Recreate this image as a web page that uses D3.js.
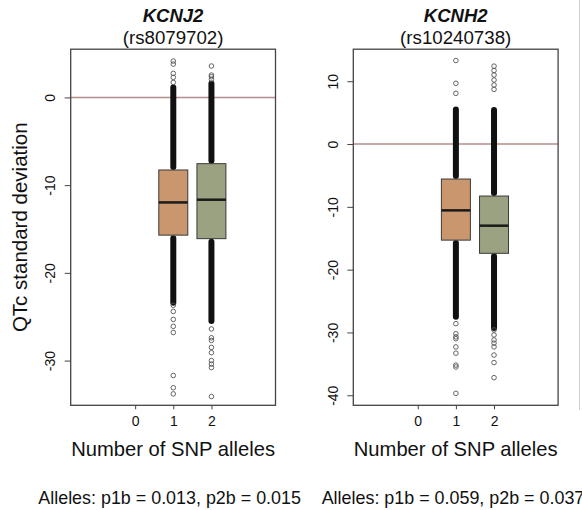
<!DOCTYPE html>
<html lang="en">
<head>
    <meta charset="UTF-8">
    <title>QTc by SNP alleles</title>
    <script src="https://d3js.org/d3.v7.min.js"></script>
    <style>
        body { margin: 0; background: #fff; }
        svg text { font-family: "Liberation Sans", Arial, Helvetica, sans-serif; fill: #111; }
    </style>
</head>
<body>
<div id="chart"></div>
<script>
    // values
    var genes = ["KCNJ2", "KCNH2"];
    var snpIds = ["rs8079702", "rs10240738"];
    var p1b = ["0.013", "0.059"];
    var p2b = ["0.015", "0.037"];
    var alleleTicks = [0, 1, 2];
    var boxGroups = [1, 2];
    var yTicks = [[-30, -20, -10, 0], [-40, -30, -20, -10, 0, 10]];
    var yDomains = [[-35.1, 5.5], [-41.6, 15.1]];
    var xDomain = [-1.69, 3.68];

    // per panel, per group (1, 2)
    var q1 = [[-15.7, -16.1], [-15.3, -17.4]];
    var medians = [[-11.97, -11.66], [-10.56, -13.0]];
    var q3 = [[-8.27, -7.55], [-5.57, -8.28]];
    // limits of the solid run of overlapping outliers
    var denseHigh = [[1.14, 1.6], [5.5, 5.4]];
    var denseLow = [[-23.4, -25.5], [-27.5, -29.3]];
    // separate outliers
    var outliers = [
        [[4.15, 3.8, 2.74, 2.29, 1.71, -23.7, -24.4, -25.3, -26.1, -26.8, -31.7, -33.1, -33.8],
         [3.58, 2.55, 2.36, 2.06, -26.4, -27.4, -27.7, -28.5, -29.1, -30.0, -30.4, -30.8, -34.1]],
        [[13.3, 9.67, 8.07, -28.6, -30.2, -30.7, -31.0, -32.3, -33.3, -35.2, -35.5, -39.7],
         [12.4, 11.7, 11.0, 10.2, 9.4, 8.7, -29.6, -30.4, -31.2, -31.7, -32.3, -33.6, -34.8, -37.2]]
    ];
    var boxColors = ["#c9966e", "#9aa281"];

    var W = 582, H = 510;
    var panelLeft = [70.7, 353.3],
        panelWidth = 204.8,
        plotTop = 49.2,
        plotBottom = 405.3;

    var svg = d3.select("#chart").append("svg")
        .attr("width", W)
        .attr("height", H);

    // edge of the next panel, cut off on the right
    svg.append("line")
        .attr("x1", 579.5).attr("x2", 579.5)
        .attr("y1", 0).attr("y2", 410)
        .attr("stroke", "#d0d0d0").attr("stroke-width", 1);

    genes.forEach(function (gene, p) {
        var x0 = panelLeft[p], x1 = x0 + panelWidth, cx = (x0 + x1) / 2;
        var x = d3.scaleLinear().domain(xDomain).range([x0, x1]);
        var y = d3.scaleLinear().domain(yDomains[p]).range([plotBottom, plotTop]);
        var g = svg.append("g");
        var halfBox = 0.38;

        // titles
        g.append("text")
            .attr("x", cx).attr("y", 22)
            .attr("text-anchor", "middle")
            .style("font-size", "18.5px").style("font-weight", "bold").style("font-style", "italic")
            .text(gene);
        g.append("text")
            .attr("x", cx).attr("y", 44)
            .attr("text-anchor", "middle")
            .style("font-size", "18.7px")
            .text("(" + snpIds[p] + ")");

        // reference line at zero
        g.append("line")
            .attr("x1", x0).attr("x2", x1)
            .attr("y1", y(0)).attr("y2", y(0))
            .attr("stroke", "#b58c8c").attr("stroke-width", 1.5);

        // dense outlier columns
        boxGroups.forEach(function (grp, k) {
            g.append("rect")
                .attr("x", x(grp) - 3).attr("width", 6)
                .attr("y", y(denseHigh[p][k]) - 3)
                .attr("height", y(q3[p][k]) - y(denseHigh[p][k]) + 3)
                .attr("rx", 3)
                .attr("fill", "#111");
            g.append("rect")
                .attr("x", x(grp) - 3).attr("width", 6)
                .attr("y", y(q1[p][k]))
                .attr("height", y(denseLow[p][k]) - y(q1[p][k]) + 3)
                .attr("rx", 3)
                .attr("fill", "#111");
        });

        // boxes
        g.selectAll("rect.box")
            .data(boxGroups)
            .enter().append("rect")
            .attr("class", "box")
            .attr("x", function (d) { return x(d - halfBox); })
            .attr("width", function (d) { return x(d + halfBox) - x(d - halfBox); })
            .attr("y", function (d, k) { return y(q3[p][k]); })
            .attr("height", function (d, k) { return y(q1[p][k]) - y(q3[p][k]); })
            .attr("fill", function (d, k) { return boxColors[k]; })
            .attr("stroke", "#3a3a3a").attr("stroke-width", 1);

        g.selectAll("line.median")
            .data(boxGroups)
            .enter().append("line")
            .attr("class", "median")
            .attr("x1", function (d) { return x(d - halfBox); })
            .attr("x2", function (d) { return x(d + halfBox); })
            .attr("y1", function (d, k) { return y(medians[p][k]); })
            .attr("y2", function (d, k) { return y(medians[p][k]); })
            .attr("stroke", "#1a1a1a").attr("stroke-width", 2.5);

        // separate outliers
        boxGroups.forEach(function (grp, k) {
            g.selectAll("circle.o" + k)
                .data(outliers[p][k])
                .enter().append("circle")
                .attr("class", "o" + k)
                .attr("cx", x(grp))
                .attr("cy", function (d) { return y(d); })
                .attr("r", 2.3)
                .attr("fill", "none")
                .attr("stroke", "#555").attr("stroke-width", 0.9);
        });

        // frame
        g.append("rect")
            .attr("x", x0).attr("y", plotTop)
            .attr("width", x1 - x0).attr("height", plotBottom - plotTop)
            .attr("fill", "none")
            .attr("stroke", "#444").attr("stroke-width", 1.3);

        // y axis, labels parallel to the axis
        var yAxis = g.append("g")
            .attr("transform", "translate(" + x0 + ",0)")
            .call(d3.axisLeft(y).tickValues(yTicks[p]).tickSize(6).tickFormat(d3.format("d")));
        yAxis.select(".domain").remove();
        yAxis.selectAll("line").attr("stroke", "#444");
        yAxis.selectAll("text")
            .attr("x", null).attr("dy", null)
            .attr("transform", "translate(-15.5,0) rotate(-90)")
            .attr("text-anchor", "middle")
            .style("font-size", "14px")
            .style("font-family", "'Liberation Sans', Arial, sans-serif")
            .attr("fill", "#222")
            .text(function (d) { return d < 0 ? "-" + Math.abs(d) : d; });

        // x axis
        var xAxis = g.append("g")
            .attr("transform", "translate(0," + plotBottom + ")")
            .call(d3.axisBottom(x).tickValues(alleleTicks).tickSize(4).tickFormat(d3.format("d")));
        xAxis.select(".domain").remove();
        xAxis.selectAll("line").attr("stroke", "#444");
        xAxis.selectAll("text")
            .attr("y", 21).attr("dy", null)
            .style("font-size", "14px")
            .style("font-family", "'Liberation Sans', Arial, sans-serif")
            .attr("fill", "#222");

        g.append("text")
            .attr("x", cx).attr("y", 456)
            .attr("text-anchor", "middle")
            .style("font-size", "20.2px")
            .text("Number of SNP alleles");

        g.append("text")
            .attr("x", p === 0 ? 38.3 : 321.7).attr("y", 504)
            .style("font-size", "17.9px")
            .text("Alleles: p1b = " + p1b[p] + ", p2b = " + p2b[p]);

        if (p === 0) {
            g.append("text")
                .attr("transform", "translate(27," + ((plotTop + plotBottom) / 2) + ") rotate(-90)")
                .attr("text-anchor", "middle")
                .style("font-size", "20.5px")
                .text("QTc standard deviation");
        }
    });
</script>
</body>
</html>
